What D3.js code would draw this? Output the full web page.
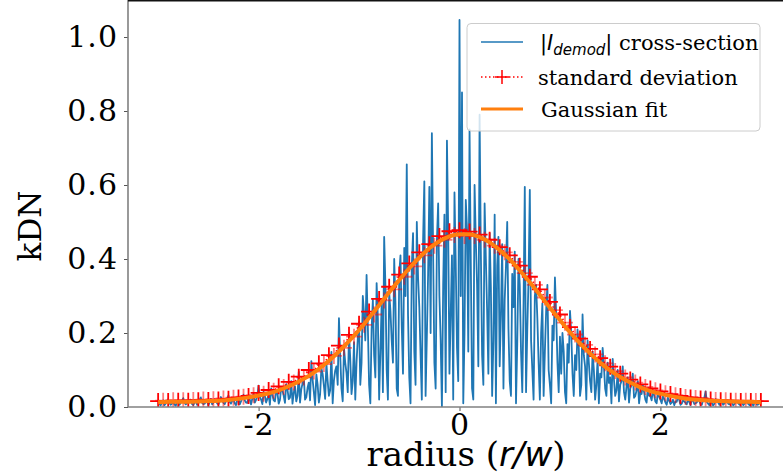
<!DOCTYPE html>
<html>
<head>
<meta charset="utf-8">
<script src="https://cdn.jsdelivr.net/npm/d3@7"></script>
<style>
  html, body { margin: 0; padding: 0; background: #fff; }
  svg { display: block; }
  .serif { font-family: "DejaVu Serif", serif; }
  .math { font-family: "DejaVu Sans", sans-serif; font-style: italic; }
</style>
</head>
<body>
<svg id="chart" width="783" height="473"></svg>
<script>
// Radius grid of the cross-section (r/w), step 0.0125 from -3 to 3
const radiusStart = -3, radiusStep = 0.0125;
// |I_demod| cross-section samples (kDN)
const crossSection = [
  // -3.0 .. -2.0
  0.012,0.008,0.004,0.013,0.018,0.005,0.009,0.016,0.021,0.011,
  0.006,0.009,0.015,0.007,0.003,0.014,0.019,0.006,0.011,0.017,
  0.024,0.012,0.007,0.010,0.013,0.018,0.020,0.008,0.005,0.012,
  0.017,0.006,0.010,0.019,0.026,0.011,0.008,0.009,0.014,0.016,
  0.004,0.013,0.022,0.007,0.012,0.020,0.018,0.010,0.006,0.015,
  0.027,0.018,0.011,0.008,0.016,0.022,0.031,0.014,0.009,0.017,
  0.021,0.010,0.005,0.019,0.024,0.007,0.015,0.025,0.033,0.018,
  0.012,0.011,0.028,0.020,0.007,0.023,0.036,0.012,0.019,0.030,
  0.058,
  // -2.0 .. -1.0
  0.027,0.020,0.008,0.041,0.030,0.012,0.022,0.035,0.006,0.050,
  0.033,0.018,0.015,0.044,0.038,0.009,0.019,0.052,0.045,0.030,
  0.011,0.062,0.048,0.021,0.025,0.070,0.009,0.038,0.056,0.015,
  0.030,0.095,0.012,0.048,0.064,0.081,0.020,0.026,0.052,0.066,
  0.018,0.124,0.075,0.040,0.005,0.088,0.061,0.012,0.034,0.105,
  0.090,0.058,0.022,0.118,0.070,0.030,0.045,0.149,0.010,0.072,
  0.098,0.110,0.060,0.240,0.140,0.050,0.015,0.160,0.120,0.092,
  0.040,0.200,0.130,0.035,0.070,0.175,0.020,0.120,0.185,0.230,
  // -1.0 .. 0.0
  0.060,0.120,0.300,0.250,0.180,0.357,0.220,0.060,0.010,0.210,
  0.290,0.140,0.080,0.335,0.240,0.020,0.150,0.280,0.040,0.460,
  0.330,0.100,0.020,0.310,0.260,0.180,0.120,0.400,0.280,0.050,
  0.030,0.360,0.410,0.220,0.090,0.430,0.300,0.656,0.250,0.080,
  0.010,0.380,0.470,0.150,0.060,0.500,0.350,0.270,0.140,0.020,
  0.450,0.610,0.030,0.190,0.360,0.595,0.200,0.740,0.420,0.120,
  0.050,0.450,0.550,0.300,0.180,0.000,0.330,0.520,0.040,0.720,
  0.480,0.090,0.250,0.410,0.020,0.580,0.390,0.160,0.070,1.046,
  // 0.0 .. 1.0
  0.300,0.850,0.010,0.200,0.560,0.480,0.150,0.750,0.390,0.050,
  0.020,0.600,0.450,0.330,0.110,0.790,0.420,0.140,0.060,0.550,
  0.400,0.260,0.090,0.470,0.320,0.030,0.180,0.520,0.010,0.380,
  0.460,0.110,0.250,0.440,0.050,0.290,0.380,0.500,0.210,0.070,
  0.030,0.360,0.270,0.420,0.010,0.170,0.400,0.330,0.150,0.040,
  0.280,0.595,0.040,0.210,0.350,0.587,0.180,0.100,0.020,0.300,
  0.330,0.240,0.120,0.020,0.200,0.280,0.030,0.150,0.260,0.330,
  0.100,0.060,0.010,0.220,0.180,0.350,0.250,0.120,0.040,0.190,
  // 1.0 .. 2.0
  0.090,0.200,0.150,0.040,0.010,0.170,0.120,0.260,0.200,0.090,
  0.030,0.140,0.100,0.210,0.160,0.030,0.060,0.250,0.140,0.110,
  0.020,0.180,0.120,0.070,0.040,0.150,0.100,0.020,0.060,0.130,
  0.010,0.090,0.080,0.160,0.110,0.050,0.030,0.120,0.065,0.080,
  0.010,0.130,0.075,0.030,0.045,0.100,0.015,0.060,0.070,0.110,
  0.040,0.020,0.055,0.080,0.012,0.050,0.060,0.090,0.025,0.030,
  0.045,0.070,0.010,0.040,0.035,0.060,0.040,0.020,0.012,0.050,
  0.030,0.030,0.018,0.045,0.032,0.015,0.010,0.040,0.028,0.020,
  // 2.0 .. 3.0
  0.010,0.030,0.022,0.012,0.006,0.025,0.017,0.008,0.012,0.020,
  0.005,0.015,0.014,0.028,0.019,0.006,0.009,0.018,0.015,0.011,
  0.007,0.022,0.013,0.005,0.020,0.017,0.008,0.010,0.012,0.024,
  0.016,0.007,0.006,0.019,0.025,0.042,0.014,0.009,0.005,0.016,
  0.011,0.004,0.009,0.021,0.015,0.012,0.006,0.018,0.013,0.006,
  0.010,0.015,0.017,0.009,0.007,0.020,0.012,0.004,0.008,0.014,
  0.015,0.010,0.006,0.017,0.011,0.005,0.009,0.013,0.014,0.008,
  0.005,0.016,0.010,0.003,0.013,0.012,0.006,0.007,0.011,0.010
];

// Standard deviation, step 0.05 from -3 to 3
const stdStep = 0.05;
const stdDev = [
  0.016,0.017,0.016,0.018,0.017,0.018,0.017,0.019,0.018,0.020,
  0.019,0.021,0.020,0.023,0.022,0.025,0.026,0.028,0.030,0.032,
  0.038,0.036,0.046,0.044,0.056,0.054,0.068,0.066,0.082,0.080,
  0.100,0.096,0.118,0.116,0.140,0.138,0.166,0.160,0.195,0.190,
  0.225,0.222,0.258,0.250,0.292,0.288,0.325,0.318,0.358,0.352,
  0.388,0.380,0.418,0.410,0.440,0.436,0.462,0.452,0.475,0.465,
  0.478,0.462,0.474,0.462,0.466,0.452,0.452,0.436,0.432,0.418,
  0.410,0.392,0.382,0.362,0.352,0.330,0.318,0.296,0.284,0.262,
  0.250,0.228,0.216,0.196,0.185,0.168,0.157,0.142,0.132,0.118,
  0.109,0.097,0.090,0.080,0.074,0.066,0.061,0.054,0.050,0.045,
  0.042,0.037,0.035,0.032,0.030,0.027,0.026,0.024,0.023,0.022,
  0.020,0.019,0.018,0.018,0.017,0.017,0.016,0.017,0.016,0.016,
  0.016
];

// Gaussian fit, step 0.1 from -3 to 3
const fitStep = 0.1;
const gaussFit = [
  0.013,0.014,0.014,0.014,0.015,0.016,0.017,0.019,0.022,0.026,
  0.031,0.037,0.045,0.056,0.069,0.084,0.103,0.125,0.150,0.178,
  0.208,0.241,0.275,0.310,0.343,0.375,0.404,0.429,0.448,0.461,
  0.467,0.467,0.459,0.445,0.424,0.399,0.369,0.337,0.303,0.268,
  0.235,0.202,0.172,0.145,0.120,0.099,0.081,0.066,0.053,0.043,
  0.036,0.030,0.025,0.021,0.019,0.017,0.016,0.015,0.014,0.014,
  0.013
];

const xTicks = [-2, 0, 2];
const yTicks = [0.0, 0.2, 0.4, 0.6, 0.8, 1.0];
const legendLabels = ["cross-section", "standard deviation", "Gaussian fit"];

const svg = d3.select("#chart");
const W = 783, H = 473;
const plot = { left: 128, right: 791, top: 0, bottom: 407 };

const x = d3.scaleLinear().domain([-3.3, 3.3]).range([plot.left, plot.right]);
const y = d3.scaleLinear().domain([0, 1.1]).range([plot.bottom, plot.top]);

svg.append("defs").append("clipPath").attr("id", "plotclip")
  .append("rect").attr("x", plot.left).attr("y", plot.top)
  .attr("width", plot.right - plot.left).attr("height", plot.bottom - plot.top);

const g = svg.append("g").attr("clip-path", "url(#plotclip)");

const csData = crossSection.map((v, i) => [radiusStart + i * radiusStep, v]);
const sdData = stdDev.map((v, i) => [radiusStart + i * stdStep, v]);
const fitData = gaussFit.map((v, i) => [radiusStart + i * fitStep, v]);

const line = d3.line().x(d => x(d[0])).y(d => y(d[1]));

// cross-section trace
g.append("path").datum(csData)
  .attr("d", line)
  .attr("fill", "none").attr("stroke", "#1f77b4")
  .attr("stroke-width", 1.8).attr("stroke-linejoin", "round");

// standard deviation: dotted line with + markers
g.append("path").datum(sdData)
  .attr("d", line)
  .attr("fill", "none").attr("stroke", "red")
  .attr("stroke-width", 1.5).attr("stroke-dasharray", "1.5,2.5");

const mk = 8;
g.append("g").selectAll("path.plus").data(sdData).join("path")
  .attr("class", "plus")
  .attr("d", d => {
    const cx = x(d[0]), cy = y(d[1]);
    return `M${cx - mk},${cy}H${cx + mk}M${cx},${cy - mk}V${cy + mk}`;
  })
  .attr("stroke", "red").attr("stroke-width", 1.8)
  .attr("stroke-opacity", (d, i) => i % 2 ? 0.5 : 1);

// Gaussian fit
g.append("path").datum(fitData)
  .attr("d", d3.line().x(d => x(d[0])).y(d => y(d[1])).curve(d3.curveMonotoneX))
  .attr("fill", "none").attr("stroke", "#ff7f0e")
  .attr("stroke-width", 4);

// axes
const yAxis = d3.axisLeft(y).tickValues(yTicks).tickFormat(d3.format(".1f"))
  .tickSize(4).tickPadding(6);
const xAxis = d3.axisBottom(x).tickValues(xTicks).tickFormat(d => d < 0 ? "-" + Math.abs(d) : String(d))
  .tickSize(4).tickPadding(3);

const ya = svg.append("g").attr("transform", `translate(${plot.left},0)`).call(yAxis);
const xa = svg.append("g").attr("transform", `translate(0,${plot.bottom})`).call(xAxis);
[ya, xa].forEach(a => {
  a.select(".domain").remove();
  a.selectAll(".tick line").attr("stroke", "#555").attr("stroke-width", 1);
  a.selectAll(".tick text").attr("class", "serif").attr("fill", "#000")
    .style("font-size", "30px").style("letter-spacing", "1px");
});

// spines
svg.append("line").attr("x1", plot.left).attr("x2", plot.left)
  .attr("y1", plot.top).attr("y2", plot.bottom)
  .attr("stroke", "#808080").attr("stroke-width", 1.6);
svg.append("line").attr("x1", plot.left).attr("x2", W)
  .attr("y1", plot.bottom).attr("y2", plot.bottom)
  .attr("stroke", "#808080").attr("stroke-width", 1.6);
svg.append("line").attr("x1", plot.left).attr("x2", W)
  .attr("y1", 0.75).attr("y2", 0.75)
  .attr("stroke", "#111").attr("stroke-width", 1.5);

// axis titles
const xt = svg.append("text").attr("class", "serif")
  .attr("x", 466).attr("y", 466).attr("text-anchor", "middle")
  .style("font-size", "34px").attr("fill", "#000");
xt.append("tspan").text("radius (");
xt.append("tspan").attr("class", "math").text("r/w");
xt.append("tspan").text(")");

svg.append("text").attr("class", "serif")
  .attr("transform", "translate(41,226) rotate(-90)")
  .attr("text-anchor", "middle").style("font-size", "31px")
  .attr("fill", "#000").text("kDN");

// legend
const lg = svg.append("g");
lg.append("rect").attr("x", 467).attr("y", 23.5).attr("width", 293).attr("height", 107.5)
  .attr("rx", 4).attr("fill", "#fff").attr("fill-opacity", 0.8)
  .attr("stroke", "#cccccc").attr("stroke-width", 1);

const rows = [42, 77, 109];
const lx0 = 481, lx1 = 523, tx = 540;

lg.append("line").attr("x1", lx0).attr("x2", lx1).attr("y1", rows[0]).attr("y2", rows[0])
  .attr("stroke", "#1f77b4").attr("stroke-width", 1.5);
lg.append("line").attr("x1", lx0).attr("x2", lx1).attr("y1", rows[1]).attr("y2", rows[1])
  .attr("stroke", "red").attr("stroke-width", 1.5).attr("stroke-dasharray", "1.5,2.5");
lg.append("path").attr("d", `M${502 - 7},${rows[1]}H${502 + 7}M502,${rows[1] - 7}V${rows[1] + 7}`)
  .attr("stroke", "red").attr("stroke-width", 1.5);
lg.append("line").attr("x1", lx0).attr("x2", lx1).attr("y1", rows[2]).attr("y2", rows[2])
  .attr("stroke", "#ff7f0e").attr("stroke-width", 3);

const t0 = lg.append("text").attr("x", tx).attr("y", rows[0] + 8)
  .attr("class", "serif").style("font-size", "21px").attr("fill", "#000");
t0.append("tspan").attr("class", "math").style("font-style", "normal").text("|");
t0.append("tspan").attr("class", "math").text("I");
t0.append("tspan").attr("class", "math").attr("dy", 5).style("font-size", "15px").text("demod");
t0.append("tspan").attr("class", "math").style("font-style", "normal").attr("dy", -5).text("|");
t0.append("tspan").text(" " + legendLabels[0]);

lg.append("text").attr("x", tx - 2).attr("y", rows[1] + 8)
  .attr("class", "serif").style("font-size", "21px").attr("fill", "#000").text(legendLabels[1]);
lg.append("text").attr("x", tx + 1).attr("y", rows[2] + 8)
  .attr("class", "serif").style("font-size", "21px").attr("fill", "#000").text(legendLabels[2]);
</script>
</body>
</html>
